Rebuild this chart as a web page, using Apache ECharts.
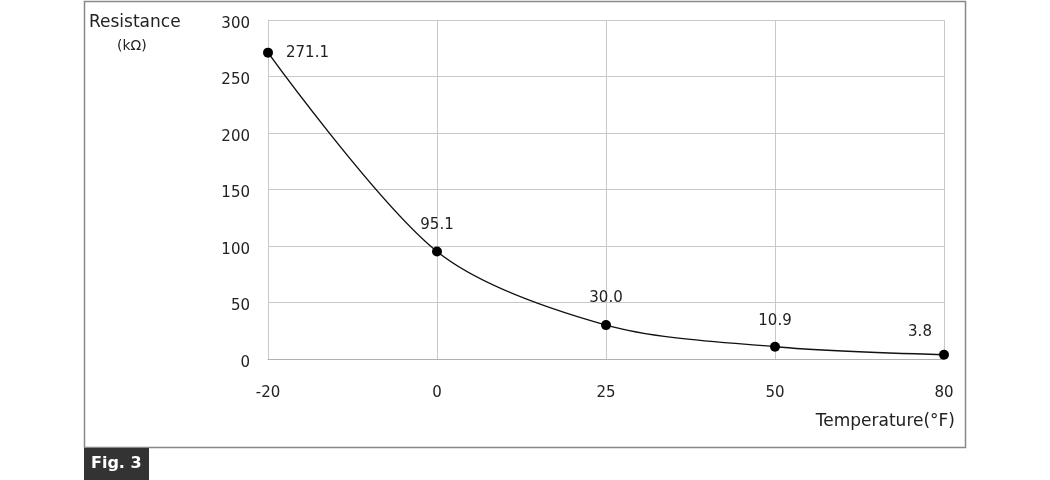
<!DOCTYPE html>
<html><head><meta charset="utf-8">
<script src="https://cdn.jsdelivr.net/npm/echarts@6/dist/echarts.min.js"></script>
<style>html,body{margin:0;padding:0;background:#fff}#c{width:1050px;height:480px}</style>
</head><body><div id="c"></div>
<script>
const categories = ['-20', '0', '25', '50', '80'];
const resistance = [271.1, 95.1, 30.0, 10.9, 3.8];
const yTicks = [0, 50, 100, 150, 200, 250, 300];
const labelPos = ['right', 'top', 'top', 'top', 'top'];

const font = '"DejaVu Sans", "Liberation Sans", Arial, sans-serif';
const labelOffsets = [[3, 0], [0, -4], [0, -4], [0, -3], [-24, 0]];
const chart = echarts.init(document.getElementById('c'));
chart.setOption({
  animation: false,
  backgroundColor: '#fff',
  grid: { left: 268, right: 106, top: 20, bottom: 121 },
  xAxis: {
    type: 'category', data: categories, boundaryGap: false,
    axisLine: { lineStyle: { color: '#b0b0b0' } }, axisTick: { show: false },
    axisLabel: { color: '#222', fontSize: 15, fontFamily: font, margin: 27 },
    splitLine: { show: true, lineStyle: { color: '#c8c8c8' } }
  },
  yAxis: {
    type: 'value', min: yTicks[0], max: yTicks[yTicks.length - 1], interval: 50,
    axisLine: { show: true, lineStyle: { color: '#c8c8c8' } }, axisTick: { show: false },
    axisLabel: { color: '#222', fontSize: 15, fontFamily: font, margin: 18,
                 verticalAlign: 'top', lineHeight: 8 },
    splitLine: { lineStyle: { color: '#c8c8c8' } }
  },
  series: [{
    type: 'line', smooth: 0.3,
    data: resistance.map((v, i) => ({
      value: v,
      label: { position: labelPos[i], offset: labelOffsets[i] }
    })),
    symbol: 'circle', symbolSize: 10,
    itemStyle: { color: '#000' },
    lineStyle: { color: '#111', width: 1.4 },
    label: {
      show: true, color: '#222', fontSize: 15, fontFamily: font, distance: 10,
      formatter: p => p.value.toFixed(1)
    }
  }],
  graphic: [
    { type: 'rect', z: -1, shape: { x: 84.5, y: 1.5, width: 881, height: 446 },
      style: { fill: 'none', stroke: '#888', lineWidth: 1.5 } },
    { type: 'text', left: 89, top: 14,
      style: { text: 'Resistance', fill: '#222', font: '17px ' + font } },
    { type: 'text', left: 117, top: 39,
      style: { text: '(kΩ)', fill: '#222', font: '14px ' + font } },
    { type: 'text', right: 95, top: 413,
      style: { text: 'Temperature(°F)', fill: '#222', font: '17px ' + font } },
    { type: 'rect', shape: { x: 84, y: 448, width: 65, height: 32 },
      style: { fill: '#333' } },
    { type: 'text', left: 91, top: 456,
      style: { text: 'Fig. 3', fill: '#fff', font: 'bold 16px ' + font } }
  ]
});
</script></body></html>
